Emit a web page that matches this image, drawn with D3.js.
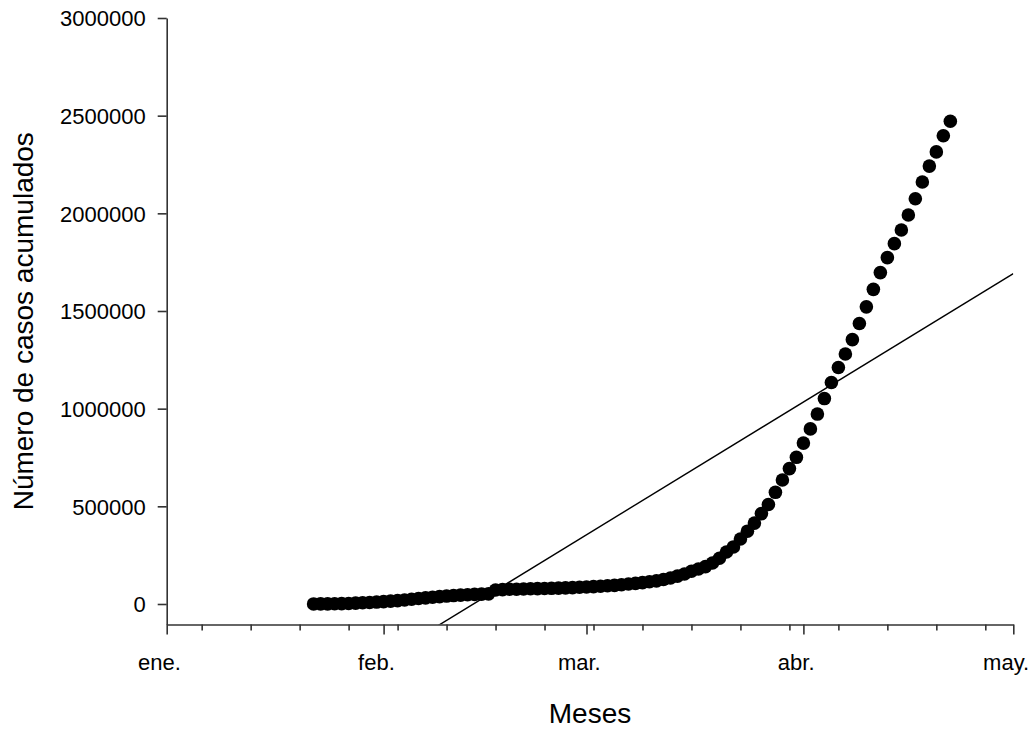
<!DOCTYPE html>
<html>
<head>
<meta charset="utf-8">
<script src="https://cdn.jsdelivr.net/npm/d3@7"></script>
<style>
  body { margin: 0; background: #fff; }
  text { font-family: "Liberation Sans", Arial, sans-serif; fill: #000; }
</style>
</head>
<body>
<svg id="chart" width="1034" height="730"></svg>
<script>
// cumulative cases, one value per day starting 22 Jan 2020
var startDate = new Date(2020, 0, 22);
var casos = [
  314, 581, 846, 1320, 2014, 2798, 4593, 6065, 7818, 9826,
  11953, 14557, 17391, 20630, 24554, 28276, 31481, 34886, 37558, 40554,
  43103, 45171, 46997, 49053, 50580, 51857, 71429, 73332, 75204, 75748,
  76769, 77794, 78811, 79331, 80239, 81109, 82294, 83652, 85403, 87137,
  88948, 90870, 93090, 95324, 98192, 102188, 105586, 109577, 113702, 118319,
  125260, 132758, 142539, 153517, 167515, 179111, 191127, 209839, 234073, 266073,
  292142, 332930, 372757, 414179, 462684, 509164, 571678, 634835, 693224, 750890,
  823626, 896450, 972303, 1051635, 1133758, 1210956, 1279722, 1353361, 1436198, 1521252,
  1610909, 1696588, 1773084, 1844863, 1914916, 1991562, 2074529, 2160207, 2241778, 2314621,
  2397216, 2471136
];
var yTicks = [0, 500000, 1000000, 1500000, 2000000, 2500000, 3000000];
var monthLabels = ["ene.", "feb.", "mar.", "abr.", "may.", "jun.", "jul.", "ago.", "sep.", "oct.", "nov.", "dic."];
var xDomain = [new Date(2020, 0, 1), new Date(2020, 4, 1)];
var yDomain = [-105000, 3000000];

var svg = d3.select("#chart");
var plotLeft = 166.7, plotRight = 1013.3, plotTop = 18, plotBottom = 624.5;

var x = d3.scaleTime().domain(xDomain).range([plotLeft, plotRight]);
var y = d3.scaleLinear().domain(yDomain).range([plotBottom, plotTop]);

var puntos = casos.map(function (v, i) {
    return { fecha: d3.timeDay.offset(startDate, i), valor: v };
});

// linear fit (least squares) over day number
var dayNum = function (d) { return d3.timeDay.count(xDomain[0], d); };
var mx = d3.mean(puntos, function (d) { return dayNum(d.fecha); });
var my = d3.mean(puntos, function (d) { return d.valor; });
var sxy = d3.sum(puntos, function (d) { return (dayNum(d.fecha) - mx) * (d.valor - my); });
var sxx = d3.sum(puntos, function (d) { return Math.pow(dayNum(d.fecha) - mx, 2); });
var slope = sxy / sxx;
var intercept = my - slope * mx;

svg.append("clipPath").attr("id", "plotclip")
    .append("rect")
    .attr("x", plotLeft).attr("y", plotTop)
    .attr("width", plotRight - plotLeft).attr("height", plotBottom - plotTop);

var fitLine = d3.line()
    .x(function (d) { return x(d); })
    .y(function (d) { return y(intercept + slope * dayNum(d)); });

svg.append("path")
    .datum(xDomain)
    .attr("clip-path", "url(#plotclip)")
    .attr("d", fitLine)
    .attr("fill", "none")
    .attr("stroke", "#000")
    .attr("stroke-width", 1.4);

svg.append("g").selectAll("circle")
    .data(puntos)
    .enter().append("circle")
    .attr("cx", function (d) { return x(d.fecha); })
    .attr("cy", function (d) { return y(d.valor); })
    .attr("r", 6.8)
    .attr("fill", "#000");

// y axis
var yAxis = svg.append("g")
    .attr("transform", "translate(" + plotLeft + ",0)")
    .call(d3.axisLeft(y).tickValues(yTicks).tickFormat(d3.format("d"))
        .tickSizeInner(9).tickSizeOuter(0).tickPadding(12));
yAxis.selectAll("text").style("font-size", "22px").attr("dy", "0.36em");

// x axis: weekly minor ticks + monthly major ticks
var xMinor = svg.append("g")
    .attr("transform", "translate(0," + plotBottom + ")")
    .call(d3.axisBottom(x).ticks(d3.timeMonday).tickFormat("").tickSizeInner(6).tickSizeOuter(0));
xMinor.select(".domain").remove();

var xAxis = svg.append("g")
    .attr("transform", "translate(0," + plotBottom + ")")
    .call(d3.axisBottom(x).ticks(d3.timeMonth)
        .tickFormat(function (d) { return monthLabels[d.getMonth()]; })
        .tickSizeInner(10).tickSizeOuter(0));
xAxis.selectAll("text")
    .style("font-size", "22px")
    .attr("y", 45.5).attr("dy", 0).attr("dx", -7.7);

svg.selectAll(".domain, .tick line")
    .attr("stroke", "#333")
    .attr("stroke-width", 1.6);

// axis titles
svg.append("text")
    .attr("x", (plotLeft + plotRight) / 2).attr("y", 723)
    .attr("text-anchor", "middle")
    .style("font-size", "28px")
    .text("Meses");

svg.append("text")
    .attr("transform", "translate(33," + (plotTop + plotBottom) / 2 + ") rotate(-90)")
    .attr("text-anchor", "middle")
    .style("font-size", "28px")
    .text("Número de casos acumulados");
</script>
</body>
</html>
